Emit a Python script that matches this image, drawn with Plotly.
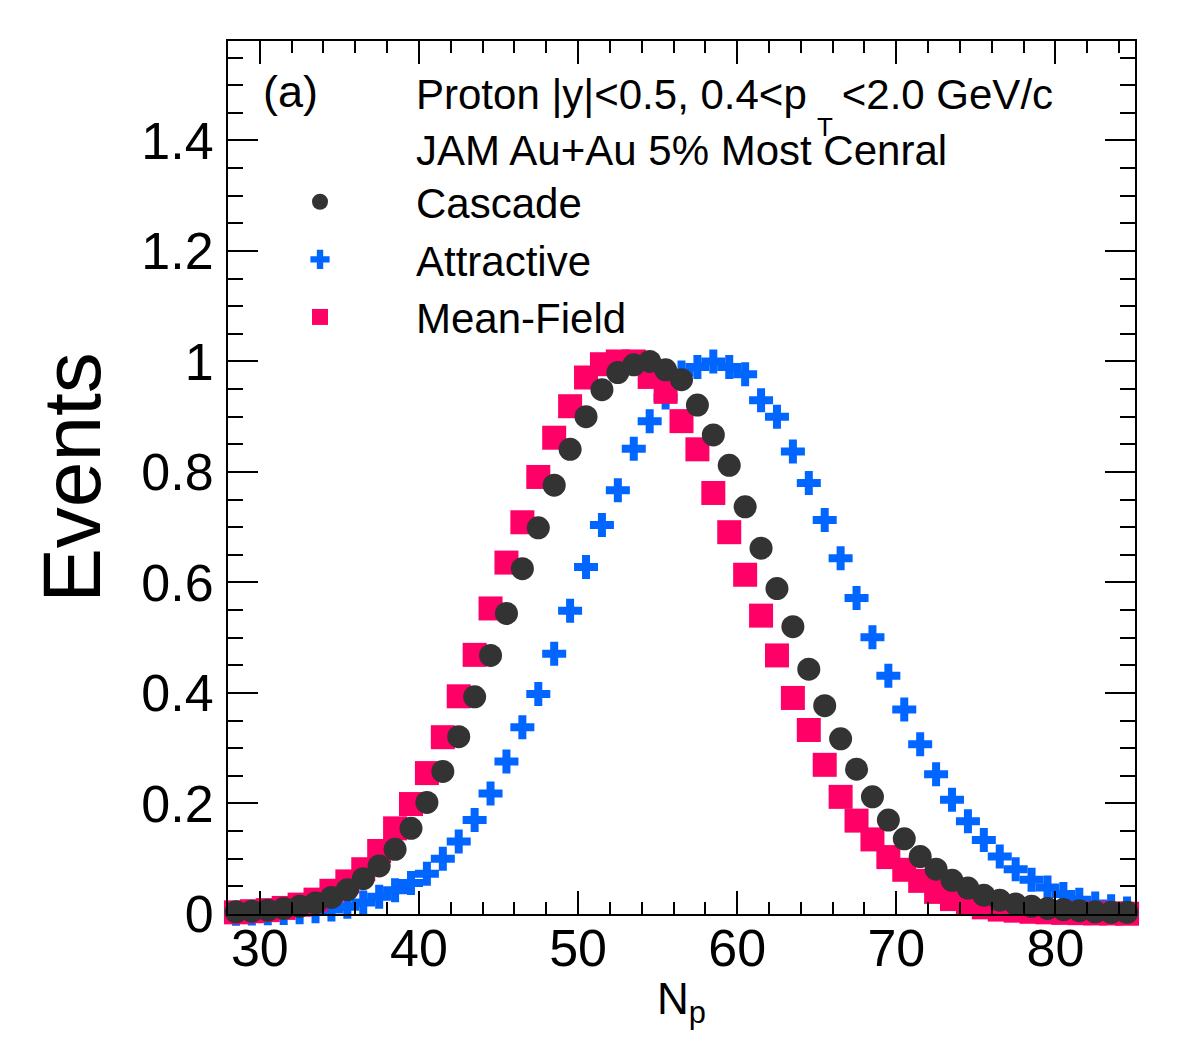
import plotly.graph_objects as go

# ---- data ----
n_p = [28.5, 29.5, 30.5, 31.5, 32.5, 33.5, 34.5, 35.5, 36.5, 37.5,
       38.5, 39.5, 40.5, 41.5, 42.5, 43.5, 44.5, 45.5, 46.5, 47.5,
       48.5, 49.5, 50.5, 51.5, 52.5, 53.5, 54.5, 55.5, 56.5, 57.5,
       58.5, 59.5, 60.5, 61.5, 62.5, 63.5, 64.5, 65.5, 66.5, 67.5,
       68.5, 69.5, 70.5, 71.5, 72.5, 73.5, 74.5, 75.5, 76.5, 77.5,
       78.5, 79.5, 80.5, 81.5, 82.5, 83.5, 84.5]

cascade = [0.004, 0.005, 0.007, 0.010, 0.014, 0.020, 0.030, 0.044, 0.064, 0.087,
           0.117, 0.155, 0.202, 0.258, 0.321, 0.393, 0.468, 0.544, 0.625, 0.699,
           0.776, 0.841, 0.900, 0.949, 0.980, 0.994, 1.000, 0.985, 0.967, 0.921,
           0.867, 0.812, 0.737, 0.662, 0.589, 0.520, 0.443, 0.377, 0.317, 0.262,
           0.212, 0.170, 0.136, 0.104, 0.081, 0.061, 0.047, 0.034, 0.025, 0.018,
           0.014, 0.010, 0.008, 0.006, 0.004, 0.003, 0.003]

attractive = [0.0005, 0.001, 0.0015, 0.002, 0.003, 0.005, 0.008, 0.013, 0.021, 0.031,
              0.043, 0.056, 0.073, 0.100, 0.131, 0.170, 0.218, 0.276, 0.338, 0.398,
              0.471, 0.549, 0.628, 0.704, 0.767, 0.842, 0.892, 0.935, 0.980, 0.990,
              1.000, 0.990, 0.977, 0.930, 0.900, 0.837, 0.780, 0.713, 0.644, 0.572,
              0.501, 0.431, 0.370, 0.307, 0.253, 0.207, 0.168, 0.134, 0.104, 0.081,
              0.062, 0.048, 0.036, 0.026, 0.019, 0.014, 0.010]

mean_field = [0.003, 0.005, 0.007, 0.011, 0.017, 0.026, 0.042, 0.059, 0.081, 0.114,
              0.155, 0.199, 0.255, 0.320, 0.394, 0.469, 0.553, 0.636, 0.709, 0.791,
              0.862, 0.919, 0.971, 0.995, 1.000, 1.000, 0.972, 0.945, 0.892, 0.841,
              0.762, 0.691, 0.614, 0.540, 0.468, 0.391, 0.333, 0.270, 0.212, 0.169,
              0.135, 0.103, 0.080, 0.060, 0.040, 0.027, 0.018, 0.012, 0.008, 0.006,
              0.004, 0.003, 0.002, 0.0015, 0.001, 0.001, 0.0005]

y_ticks = [0, 0.2, 0.4, 0.6, 0.8, 1, 1.2, 1.4]
x_ticks = [30, 40, 50, 60, 70, 80]

FONT = "Liberation Sans, Arial, Helvetica, sans-serif"

fig = go.Figure()

fig.add_trace(go.Scatter(
    x=n_p, y=attractive, mode="markers", name="Attractive", legendrank=2, cliponaxis=False,
    marker=dict(symbol="cross", size=20, color="#0066ff", line=dict(width=0)),
))
fig.add_trace(go.Scatter(
    x=n_p, y=mean_field, mode="markers", name="Mean-Field", legendrank=3, cliponaxis=False,
    marker=dict(symbol="square", size=24, color="#ff0066", line=dict(width=0)),
))
fig.add_trace(go.Scatter(
    x=n_p, y=cascade, mode="markers", name="Cascade", legendrank=1, cliponaxis=False,
    marker=dict(symbol="circle", size=23, color="#333333", line=dict(width=0)),
))

axis_common = dict(
    showline=True, linecolor="black", linewidth=2, mirror="allticks",
    ticks="inside", tickcolor="black", tickwidth=2,
    showgrid=False, zeroline=False,
    tickfont=dict(family=FONT, size=52, color="black"),
)

fig.update_xaxes(
    range=[28, 85], tickvals=x_ticks, ticklen=23,
    minor=dict(ticks="inside", dtick=2, ticklen=12, tickwidth=2, tickcolor="black", showgrid=False),
    title=dict(text="N<sub>p</sub>", font=dict(family=FONT, size=44, color="black"), standoff=7),
    ticklabelstandoff=-12,
    **axis_common,
)
fig.update_yaxes(
    range=[0, 1.58], tickvals=y_ticks, ticklen=30,
    minor=dict(ticks="inside", dtick=0.05, ticklen=15, tickwidth=2, tickcolor="black", showgrid=False),
    title=dict(text="Events", font=dict(family=FONT, size=82, color="black"), standoff=14),
    ticklabelstandoff=2,
    **axis_common,
)

fig.update_layout(
    width=1182, height=1038,
    margin=dict(l=228, r=47, t=41, b=124, autoexpand=False),
    paper_bgcolor="white", plot_bgcolor="white",
    font=dict(family=FONT, color="black"),
    showlegend=True,
    legend=dict(
        x=-0.0044, y=0.8546, xanchor="left", yanchor="top",
        bgcolor="rgba(0,0,0,0)", borderwidth=0,
        font=dict(family=FONT, size=42, color="black"),
        itemwidth=182, traceorder="normal",
    ),
    annotations=[
        dict(text="(a)", xref="paper", yref="paper", x=(261 - 228) / 907, y=(914 - 91) / 873,
             xanchor="left", yanchor="middle", showarrow=False,
             font=dict(family=FONT, size=45, color="black")),
        dict(text="Proton |y|&lt;0.5, 0.4&lt;p&nbsp;&nbsp;&nbsp;&lt;2.0 GeV/c", xref="paper", yref="paper",
             x=(414 - 228) / 907, y=(914 - 94) / 873,
             xanchor="left", yanchor="middle", showarrow=False,
             font=dict(family=FONT, size=42, color="black")),
        dict(text="T", xref="paper", yref="paper",
             x=(825 - 228) / 907, y=(914 - 127) / 873,
             xanchor="center", yanchor="middle", showarrow=False,
             font=dict(family=FONT, size=26, color="black")),
        dict(text="JAM Au+Au 5% Most&nbsp;Cenral", xref="paper", yref="paper",
             x=(414 - 228) / 907, y=(914 - 150) / 873,
             xanchor="left", yanchor="middle", showarrow=False,
             font=dict(family=FONT, size=42, color="black")),
    ],
)

fig.write_html("out.html")
